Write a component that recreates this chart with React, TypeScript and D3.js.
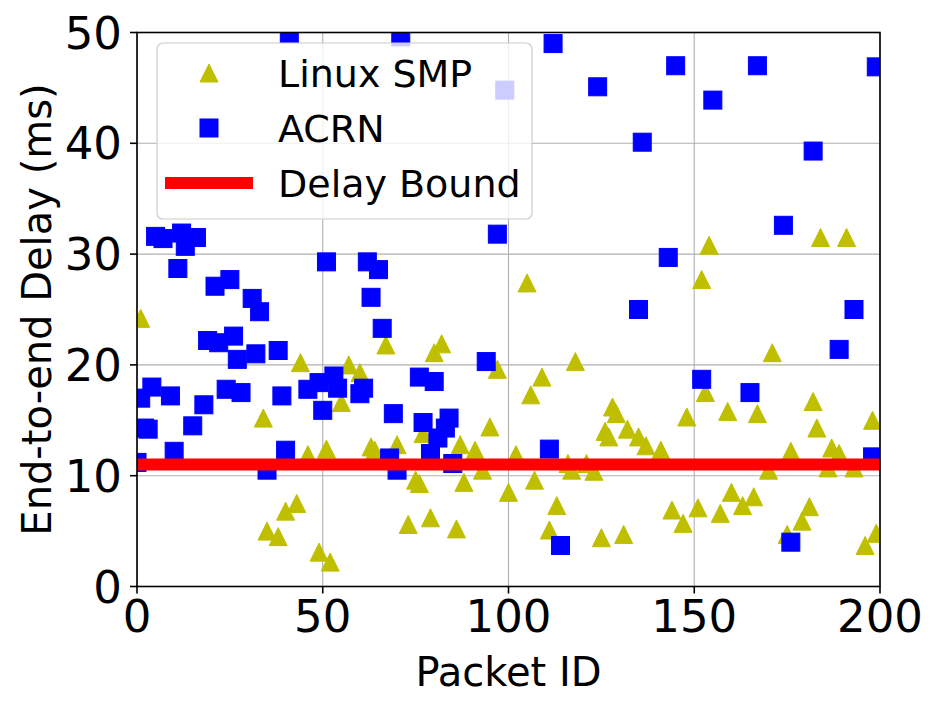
import React from 'react';
import * as d3 from 'd3';

// Linux SMP packets (id, end-to-end delay in ms)
const smpIds = [1, 34, 35, 38, 40, 43, 44, 46, 49, 51, 52, 55, 57, 60, 63, 64, 67, 70, 73, 75, 76, 77, 79, 80, 82, 86, 87, 88, 91, 93, 95, 97, 100, 102, 105, 106, 107, 109, 111, 113, 116, 117, 118, 121, 123, 125, 126, 127, 128, 129, 131, 132, 135, 137, 141, 144, 147, 148, 151, 152, 153, 154, 157, 159, 160, 163, 166, 167, 170, 171, 175, 176, 179, 181, 182, 183, 184, 186, 187, 189, 191, 193, 196, 198, 199];
const smpDelay = [24.2, 15.2, 5.0, 4.5, 6.8, 7.5, 20.2, 11.9, 3.1, 12.4, 2.2, 16.6, 20.0, 19.3, 12.6, 12.3, 21.8, 12.8, 5.6, 9.6, 9.3, 13.8, 6.2, 21.1, 21.9, 5.2, 12.8, 9.4, 12.3, 10.5, 14.4, 19.6, 8.5, 11.9, 27.4, 17.3, 9.6, 18.9, 5.1, 7.3, 11.1, 10.5, 20.3, 11.1, 10.4, 4.4, 14.0, 13.5, 16.2, 15.6, 4.7, 14.2, 13.5, 12.7, 12.3, 6.9, 5.7, 15.3, 7.1, 27.7, 17.5, 30.8, 6.6, 15.8, 8.5, 7.3, 8.1, 15.6, 10.5, 21.1, 4.7, 12.2, 5.9, 7.2, 16.7, 14.3, 31.5, 10.7, 12.5, 12.0, 31.5, 10.7, 3.7, 15.0, 4.8];

// ACRN packets (id, end-to-end delay in ms)
const acrnIds = [0, 1, 2, 3, 4, 5, 7, 9, 10, 11, 12, 13, 15, 16, 18, 19, 21, 22, 24, 25, 26, 27, 28, 31, 32, 33, 35, 38, 39, 40, 41, 46, 49, 50, 51, 53, 54, 60, 61, 62, 63, 65, 66, 68, 69, 70, 71, 76, 77, 79, 80, 81, 83, 84, 85, 94, 97, 99, 111, 112, 114, 124, 135, 136, 143, 145, 152, 155, 165, 167, 174, 176, 182, 189, 193, 198, 199];
const acrnDelay = [11.2, 17.0, 14.3, 14.2, 18.0, 31.6, 31.4, 17.2, 12.2, 28.7, 31.9, 30.7, 14.5, 31.5, 16.4, 22.2, 27.1, 22.0, 17.8, 27.7, 22.6, 20.5, 17.5, 26.0, 21.0, 24.8, 10.5, 21.3, 17.2, 12.3, 49.9, 17.8, 18.4, 15.9, 29.3, 19.0, 17.9, 17.4, 17.9, 29.3, 26.1, 28.6, 23.3, 11.6, 15.6, 10.5, 49.6, 18.9, 14.8, 12.0, 18.5, 13.4, 14.3, 15.2, 11.1, 20.3, 31.8, 44.8, 12.4, 49.0, 3.7, 45.1, 25.0, 40.1, 29.7, 47.0, 18.7, 43.9, 17.5, 47.0, 32.6, 4.0, 39.3, 21.4, 25.0, 11.7, 46.9];

const delayBound = 11;
const xTicks = [0, 50, 100, 150, 200];
const yTicks = [0, 10, 20, 30, 40, 50];
const legendLabels = ['Linux SMP', 'ACRN', 'Delay Bound'];

const W = 940;
const H = 710;
const margin = { left: 137, right: 880, top: 32.5, bottom: 586.5 };
const font = 'DejaVu Sans';
const SMP_COLOR = '#bfbf00';
const ACRN_COLOR = '#0000ff';
const MS = 18;

const triangle = (cx: number, cy: number, s: number) =>
  `M${cx},${cy - s / 2}L${cx - s / 2},${cy + s / 2}L${cx + s / 2},${cy + s / 2}Z`;

export default function App() {
  const x = d3.scaleLinear().domain([0, 200]).range([margin.left, margin.right]);
  const y = d3.scaleLinear().domain([0, 50]).range([margin.bottom, margin.top]);

  return (
    <svg width={W} height={H} style={{ position: 'absolute', left: 0, top: 0, background: '#fff' }} fontFamily={font}>
      <defs>
        <clipPath id="plot">
          <rect x={margin.left} y={margin.top} width={margin.right - margin.left} height={margin.bottom - margin.top} />
        </clipPath>
      </defs>
      <rect width={W} height={H} fill="#fff" />

      {/* grid */}
      <g stroke="#b0b0b0" strokeWidth={1.1}>
        {xTicks.map(t => (
          <line key={'gx' + t} x1={x(t)} x2={x(t)} y1={margin.top} y2={margin.bottom} />
        ))}
        {yTicks.map(t => (
          <line key={'gy' + t} x1={margin.left} x2={margin.right} y1={y(t)} y2={y(t)} />
        ))}
      </g>

      <g clipPath="url(#plot)">
        {smpIds.map((id, i) => (
          <path key={'s' + i} d={triangle(x(id), y(smpDelay[i]), MS)} fill={SMP_COLOR} stroke={SMP_COLOR} strokeWidth={1} />
        ))}
        {acrnIds.map((id, i) => (
          <rect key={'a' + i} x={x(id) - MS / 2} y={y(acrnDelay[i]) - MS / 2} width={MS} height={MS}
            fill={ACRN_COLOR} stroke={ACRN_COLOR} strokeWidth={1} />
        ))}
        <line x1={x(0)} x2={x(200)} y1={y(delayBound)} y2={y(delayBound)} stroke="#ff0000" strokeWidth={12} />
      </g>

      {/* spines */}
      <rect x={margin.left} y={margin.top} width={margin.right - margin.left} height={margin.bottom - margin.top}
        fill="none" stroke="#000" strokeWidth={1.6} />

      {/* x ticks */}
      {xTicks.map(t => (
        <g key={'xt' + t}>
          <line x1={x(t)} x2={x(t)} y1={margin.bottom} y2={margin.bottom + 7} stroke="#000" strokeWidth={1.6} />
          <text x={x(t)} y={632} textAnchor="middle" fontSize={45}>{t}</text>
        </g>
      ))}
      {/* y ticks */}
      {yTicks.map(t => (
        <g key={'yt' + t}>
          <line x1={margin.left - 7} x2={margin.left} y1={y(t)} y2={y(t)} stroke="#000" strokeWidth={1.6} />
          <text x={122} y={y(t) + 16} textAnchor="end" fontSize={45}>{t}</text>
        </g>
      ))}

      <text x={(margin.left + margin.right) / 2} y={686} textAnchor="middle" fontSize={40}>Packet ID</text>
      <text transform={`translate(51,${(margin.top + margin.bottom) / 2}) rotate(-90)`} textAnchor="middle" fontSize={40}>
        End-to-end Delay (ms)
      </text>

      {/* legend */}
      <g>
        <rect x={157} y={43} width={375} height={176} rx={6} fill="#fff" fillOpacity={0.8} stroke="#cccccc" strokeWidth={1.2} />
        <path d={triangle(209, 73, MS)} fill={SMP_COLOR} stroke={SMP_COLOR} strokeWidth={1} />
        <rect x={209 - MS / 2} y={128 - MS / 2} width={MS} height={MS} fill={ACRN_COLOR} stroke={ACRN_COLOR} strokeWidth={1} />
        <line x1={165} x2={253} y1={183} y2={183} stroke="#ff0000" strokeWidth={12} />
        {legendLabels.map((lab, i) => (
          <text key={lab} x={278} y={87 + i * 55} fontSize={38}>{lab}</text>
        ))}
      </g>
    </svg>
  );
}
